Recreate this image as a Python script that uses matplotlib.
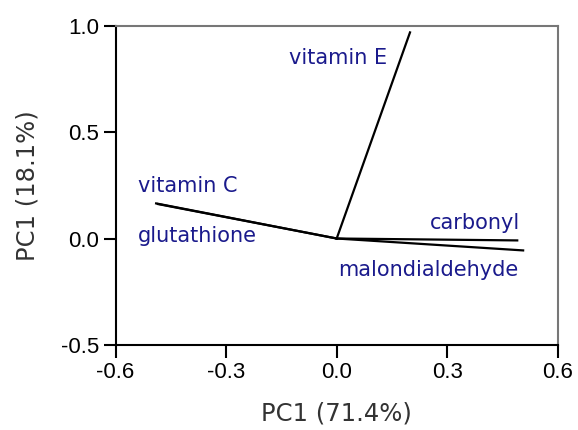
import numpy as np
import matplotlib.pyplot as plt

plt.rcParams['font.family'] = ['Liberation Sans', 'DejaVu Sans']

# loadings
variables = ['vitamin E', 'vitamin C', 'glutathione', 'carbonyl', 'malondialdehyde']
pc1 = [0.199, -0.49, -0.485, 0.49, 0.506]
pc2 = [0.969, 0.165, 0.162, -0.009, -0.056]

# label anchor positions (left edge, vertical centre)
label_x = [-0.13, -0.54, -0.54, 0.253, 0.003]
label_y = [0.85, 0.245, 0.01, 0.075, -0.15]

fig, ax = plt.subplots(figsize=(5.78, 4.30), dpi=100)
fig.subplots_adjust(left=0.2, right=0.965, top=0.94, bottom=0.198)

for x, y in zip(pc1, pc2):
    ax.plot([0, x], [0, y], color='black', lw=1.6)

for name, x, y in zip(variables, label_x, label_y):
    ax.text(x, y, name, color='#1a1a8c', fontsize=15, family='DejaVu Sans',
            ha='left', va='center')

ax.set_xlim(-0.6, 0.6)
ax.set_ylim(-0.5, 1.0)
ax.set_xticks([-0.6, -0.3, 0.0, 0.3, 0.6])
ax.set_yticks([-0.5, 0.0, 0.5, 1.0])
ax.set_xticklabels(['-0.6', '-0.3', '0.0', '0.3', '0.6'])
ax.set_yticklabels(['-0.5', '0.0', '0.5', '1.0'])
ax.tick_params(direction='out', length=9, width=1.5, labelsize=16, pad=3)

for s in ['left', 'bottom']:
    ax.spines[s].set_linewidth(1.5)
for s in ['top', 'right']:
    ax.spines[s].set_color('#777777')
    ax.spines[s].set_linewidth(1.5)

ax.set_xlabel('PC1 (71.4%)', fontsize=17.5, family='DejaVu Sans', color='#333333', labelpad=14)
ax.set_ylabel('PC1 (18.1%)', fontsize=17.5, family='DejaVu Sans', color='#333333', labelpad=15)

plt.savefig('out.png')
